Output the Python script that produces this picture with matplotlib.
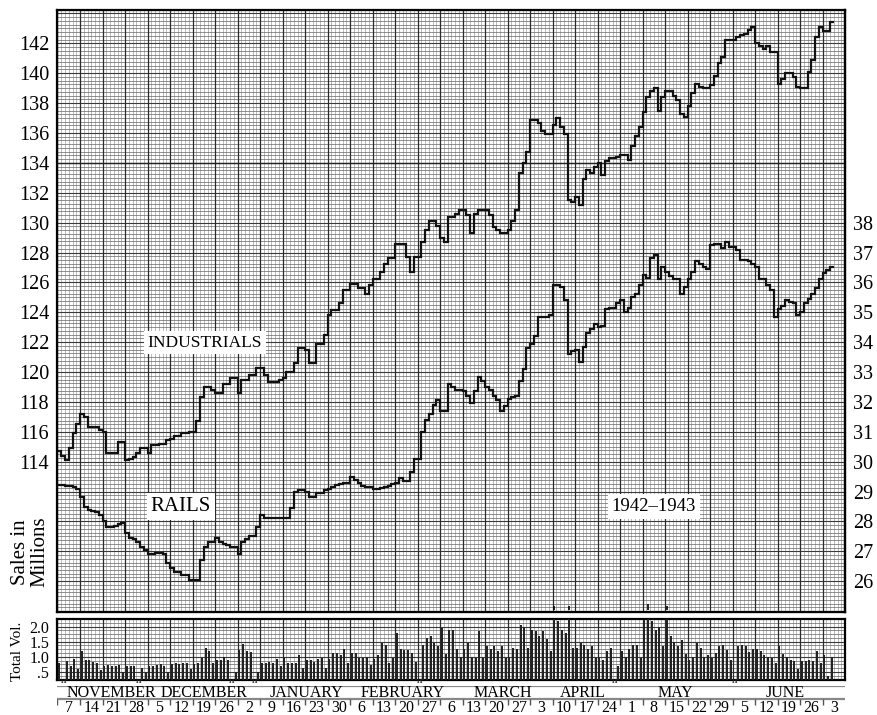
import matplotlib
matplotlib.use("Agg")
import matplotlib.pyplot as plt
import matplotlib.transforms as mtransforms
import numpy as np

plt.rcParams['font.family'] = ['Liberation Serif', 'DejaVu Serif']

# one slot per trading day, six per week (Mon..Sat), first slot = Mon 2 Nov 1942
week_labels = ['7', '14', '21', '28', '5', '12', '19', '26', '2', '9', '16', '23', '30',
               '6', '13', '20', '27', '6', '13', '20', '27', '3', '10', '17', '24',
               '1', '8', '15', '22', '29', '5', '12', '19', '26', '3']
month_names = ['NOVEMBER', 'DECEMBER', 'JANUARY', 'FEBRUARY', 'MARCH', 'APRIL', 'MAY', 'JUNE']
holidays = [1, 21, 46, 52, 96, 148, 180]

# Dow Jones industrial average (left scale)
industrials = [
    114.7, 114.4, 114.1, 114.9, 115.9, 116.5, 117.2, 117.0, 116.3, 116.3,
    116.3, 116.1, 116.0, 114.6, 114.6, 114.6, 115.3, 115.3, 114.1, 114.2,
    114.3, 114.6, 114.9, 114.9, 114.6, 115.1, 115.1, 115.2, 115.2, 115.45,
    115.5, 115.7, 115.7, 115.9, 115.9, 116.0, 116.0, 116.7, 118.35, 119.0,
    119.0, 118.8, 118.6, 118.6, 119.2, 119.2, 119.6, 119.6, 118.6, 119.5,
    119.5, 119.8, 119.8, 120.25, 120.25, 119.8, 119.3, 119.3, 119.3, 119.5,
    119.6, 120.0, 120.0, 120.6, 121.6, 121.6, 121.5, 120.6, 120.6, 121.9,
    121.9, 122.5, 123.8, 124.15, 124.15, 124.6, 125.5, 125.5, 125.9, 125.9,
    125.6, 125.6, 125.2, 125.8, 126.2, 126.2, 126.7, 127.2, 127.6, 127.6,
    128.6, 128.6, 128.6, 127.7, 126.7, 127.7, 127.7, 128.7, 129.5, 130.1,
    130.1, 129.8, 129.0, 128.7, 130.4, 130.4, 130.6, 130.85, 130.85, 130.5,
    129.3, 130.6, 130.85, 130.85, 130.85, 130.5, 129.7, 129.5, 129.3, 129.3,
    129.5, 130.1, 130.85, 133.3, 134.0, 134.75, 136.9, 136.9, 136.7, 136.1,
    135.9, 135.9, 136.5, 137.0, 136.4, 135.9, 131.5, 131.4, 131.7, 131.2,
    132.9, 133.5, 133.3, 133.75, 134.0, 133.2, 134.1, 134.3, 134.3, 134.4,
    134.55, 134.55, 134.2, 135.1, 135.8, 136.4, 137.4, 138.4, 138.8, 139.0,
    137.5, 138.4, 138.8, 138.8, 138.5, 138.2, 137.3, 137.1, 137.8, 138.65,
    139.3, 139.1, 139.0, 139.0, 139.2, 139.8, 140.65, 141.1, 142.2, 142.2,
    142.2, 142.45, 142.55, 142.65, 142.9, 143.1, 142.0, 141.8, 141.65, 141.8,
    141.4, 141.4, 139.3, 139.6, 140.0, 140.0, 139.75, 139.1, 139.0, 139.0,
    140.1, 140.9, 142.45, 143.1, 142.8, 142.8, 143.45]

# Dow Jones rail average (right scale)
rails = [
    29.22, 29.22, 29.2, 29.2, 29.15, 29.1, 28.83, 28.5, 28.4, 28.35,
    28.3, 28.2, 28.0, 27.8, 27.8, 27.85, 27.9, 27.95, 27.6, 27.43,
    27.4, 27.3, 27.15, 27.05, 26.9, 26.9, 26.95, 26.95, 26.9, 26.6,
    26.45, 26.3, 26.3, 26.2, 26.2, 26.05, 26.05, 26.05, 26.7, 27.15,
    27.3, 27.3, 27.45, 27.3, 27.25, 27.2, 27.15, 27.15, 26.9, 27.3,
    27.4, 27.5, 27.5, 27.8, 28.2, 28.1, 28.1, 28.1, 28.1, 28.1,
    28.1, 28.1, 28.45, 29.0, 29.05, 29.05, 29.0, 28.83, 28.83, 28.95,
    28.95, 29.05, 29.1, 29.15, 29.22, 29.25, 29.28, 29.28, 29.5, 29.4,
    29.3, 29.2, 29.16, 29.16, 29.1, 29.1, 29.12, 29.16, 29.2, 29.25,
    29.28, 29.45, 29.35, 29.35, 29.66, 30.1, 30.1, 31.0, 31.4, 31.6,
    31.9, 32.06, 31.7, 31.7, 32.6, 32.5, 32.4, 32.4, 32.35, 32.2,
    31.95, 32.35, 32.85, 32.7, 32.5, 32.4, 32.2, 32.06, 31.7, 31.85,
    32.1, 32.15, 32.2, 32.7, 33.1, 33.8, 33.95, 34.2, 34.85, 34.85,
    34.85, 34.9, 35.9, 35.9, 35.85, 35.4, 33.6, 33.7, 33.75, 33.35,
    33.85, 34.3, 34.45, 34.6, 34.5, 34.55, 35.1, 35.15, 35.15, 35.3,
    35.4, 35.0, 35.15, 35.5, 35.6, 35.9, 36.25, 36.15, 36.8, 36.9,
    36.1, 36.5, 36.35, 36.2, 36.1, 36.1, 35.6, 35.85, 36.1, 36.35,
    36.7, 36.6, 36.5, 36.45, 37.25, 37.3, 37.3, 37.15, 37.35, 37.2,
    37.2, 37.1, 36.75, 36.75, 36.7, 36.6, 36.5, 36.1, 36.1, 35.9,
    35.75, 34.85, 35.1, 35.2, 35.4, 35.35, 35.3, 34.9, 35.0, 35.3,
    35.45, 35.6, 35.8, 36.1, 36.3, 36.4, 36.5]

# total daily volume, millions of shares (nan = market closed)
nan = float('nan')
volume = [
    0.8, nan, 0.87, 0.71, 0.92, 0.6,
    1.18, 0.88, 0.88, 0.84, 0.79, 0.57,
    0.7, 0.73, 0.68, 0.68, 0.73, 0.51,
    0.68, 0.7, 0.68, nan, 0.62, 0.51,
    0.68, 0.7, 0.73, 0.76, 0.71, 0.51,
    0.75, 0.78, 0.75, 0.8, 0.78, 0.6,
    0.77, 0.79, 0.96, 1.29, 1.18, 0.79,
    0.9, 0.88, 1.01, 0.9, nan, 0.5,
    1.22, 1.42, 1.2, 1.15, nan, 0.5,
    0.79, 0.81, 0.84, 0.79, 0.92, 0.68,
    0.96, 0.79, 0.79, 0.81, 1.07, 0.62,
    0.9, 0.9, 0.84, 0.92, 0.96, 0.62,
    0.92, 1.12, 1.12, 1.07, 1.26, 0.79,
    1.14, 1.12, 0.96, 0.96, 1.01, 0.73,
    0.92, 1.07, 1.45, 1.4, 0.8, 0.96,
    1.79, 1.26, 1.23, 1.21, 1.12, 0.84,
    nan, 1.4, 1.62, 1.7, 1.45, 1.35,
    1.95, 1.1, 1.9, 1.9, 1.25, 1.0,
    1.25, 1.45, 1.0, 0.95, 1.85, 0.95,
    1.35, 1.25, 1.35, 1.2, 1.35, 0.95,
    1.0, 1.3, 1.25, 2.05, 2.0, 1.3,
    1.9, 1.85, 1.7, 1.85, 1.6, 1.2,
    2.38, 2.2, 1.9, 1.8, 2.37, 1.3,
    1.3, 1.45, 1.4, 1.25, 1.35, 0.95,
    1.0, 0.9, 1.2, 1.3, nan, 0.7,
    1.2, 1.0, 1.25, 1.4, 1.4, 0.95,
    2.22, 2.45, 2.2, 1.9, 2.0, 1.35,
    2.37, 1.7, 1.5, 1.35, 1.55, 1.1,
    0.9, 1.0, 1.45, 1.3, 1.0, 1.05,
    0.96, 1.12, 1.37, 1.4, 1.23, 0.9,
    nan, 1.35, 1.4, 1.35, 1.15, 1.25,
    1.25, 1.2, 1.05, 1.0, 0.95, 0.8,
    1.35, 1.1, 1.0, 0.9, 0.85, 0.6,
    0.85, 0.85, 0.9, 0.85, 1.2, 0.8,
    1.05, 0.35, 1.0]

n_slots = 6 * len(week_labels)
month_label_day = [14.3, 39, 66.5, 92, 118.8, 140, 164.7, 194]

# scales: 1 rail point = 2 industrial points, rail 30 level with industrial 114
ind_lim = (103.94, 144.23)
rail_lim = tuple(30 + (v - 114) / 2 for v in ind_lim)
vol_lim = (0.25, 2.25)

fig = plt.figure(figsize=(8.78, 7.15), dpi=100)
left, width = 57.5 / 878, 787.5 / 878
ax = fig.add_axes([left, 1 - 612 / 715, width, 602 / 715])
axv = fig.add_axes([left, 1 - 679.5 / 715, width, 60.5 / 715])
axl = fig.add_axes([left, 0, width, 29 / 715])


def paper(a, ylo, yhi, fine, medium):
    # graph paper background
    a.vlines(np.arange(0, n_slots + 1), ylo, yhi, color='#959595', lw=0.45, zorder=0)
    a.hlines(np.arange(np.ceil(ylo / fine) * fine, yhi, fine), 0, n_slots,
             color='#666666', lw=0.5, zorder=0)
    a.hlines(np.arange(np.ceil(ylo / medium) * medium, yhi, medium), 0, n_slots,
             color='#3a3a3a', lw=0.8, zorder=0)
    a.vlines(np.arange(0, n_slots + 1, 6), ylo, yhi, color='#2a2a2a', lw=0.9, zorder=0)


# price panel
paper(ax, ind_lim[0], ind_lim[1], 0.25, 2)
ax.axhline(134, color='#222', lw=1.0, zorder=0)
ax.stairs(industrials, np.arange(len(industrials) + 1), baseline=None,
          color='#111', lw=1.6, zorder=3)
ax.set_xlim(0, n_slots)
ax.set_ylim(*ind_lim)
ax.set_yticks(np.arange(114, 143, 2))
ax.set_xticks([])
ax.tick_params(axis='y', length=0, pad=6, labelsize=14.5)
for s in ax.spines.values():
    s.set_linewidth(1.6)

ax2 = ax.twinx()
ax2.stairs(rails, np.arange(len(rails) + 1), baseline=None, color='#111', lw=1.6, zorder=3)
ax2.set_ylim(*rail_lim)
ax2.set_yticks(np.arange(26, 39))
ax2.tick_params(axis='y', length=0, pad=6, labelsize=14.5)
ax2.spines['right'].set_linewidth(1.6)

box = dict(facecolor='white', edgecolor='none', pad=2.5)
ax.text(39.3, 121.95, 'INDUSTRIALS', fontsize=12.5, ha='center', va='center', bbox=box, zorder=5)
ax.text(32.9, 111.0, 'RAILS', fontsize=15, ha='center', va='center', bbox=box, zorder=5)
ax.text(159, 111.0, '1942\u20131943', fontsize=13.5, ha='center', va='center', bbox=box, zorder=5)

# volume panel
paper(axv, 0.0, 2.5, 0.125, 0.5)
vol = np.array(volume)
days = np.arange(len(vol)) + 0.5
axv.bar(days, vol, width=0.55, color='#222', zorder=3)
axv.set_xlim(0, n_slots)
axv.set_ylim(*vol_lim)
axv.set_yticks([0.5, 1.0, 1.5, 2.0])
axv.set_yticklabels(['.5', '1.0', '1.5', '2.0'])
axv.set_xticks([])
axv.tick_params(axis='y', length=0, pad=6, labelsize=11.5)
for s in axv.spines.values():
    s.set_linewidth(1.6)

# off-scale volume carried up into the price panel
px_per_ind = 602 / (ind_lim[1] - ind_lim[0])
over = vol > vol_lim[1]
ax.vlines(days[over], ind_lim[0] + 0.15,
          ind_lim[0] + 0.15 + (vol[over] - vol_lim[1]) * 30 / px_per_ind,
          color='#111', lw=1.3, zorder=4)

# holiday marks under the volume bars
trans = mtransforms.blended_transform_factory(axv.transData, axv.transAxes)
for h in holidays:
    axv.text(h + 0.5, -0.035, 'H', transform=trans, fontsize=5, fontweight='bold',
             ha='center', va='center', color='#222', clip_on=False)

# month / week band
axl.set_xlim(0, n_slots)
axl.set_ylim(0, 1)
axl.axis('off')
axl.axhline(1.0, color='#888', lw=1.6)
axl.axhline(0.55, color='#888', lw=1.6)
axl.vlines(np.arange(0, n_slots, 6), 0.36, 0.55, color='#555', lw=1.0)
for name, d in zip(month_names, month_label_day):
    axl.text(d, 0.76, name, fontsize=11.5, ha='center', va='center')
for i, lab in enumerate(week_labels):
    axl.text(6 * i + 3, 0.25, lab, fontsize=11.5, ha='center', va='center')

fig.text(30 / 878, 1 - 552 / 715, 'Sales in\nMillions', rotation=90, fontsize=15,
         ha='center', va='center', linespacing=1.05)
fig.text(18 / 878, 1 - 651 / 715, 'Total Vol.', rotation=90, fontsize=11,
         ha='center', va='center')

fig.savefig('out.png', dpi=100)
